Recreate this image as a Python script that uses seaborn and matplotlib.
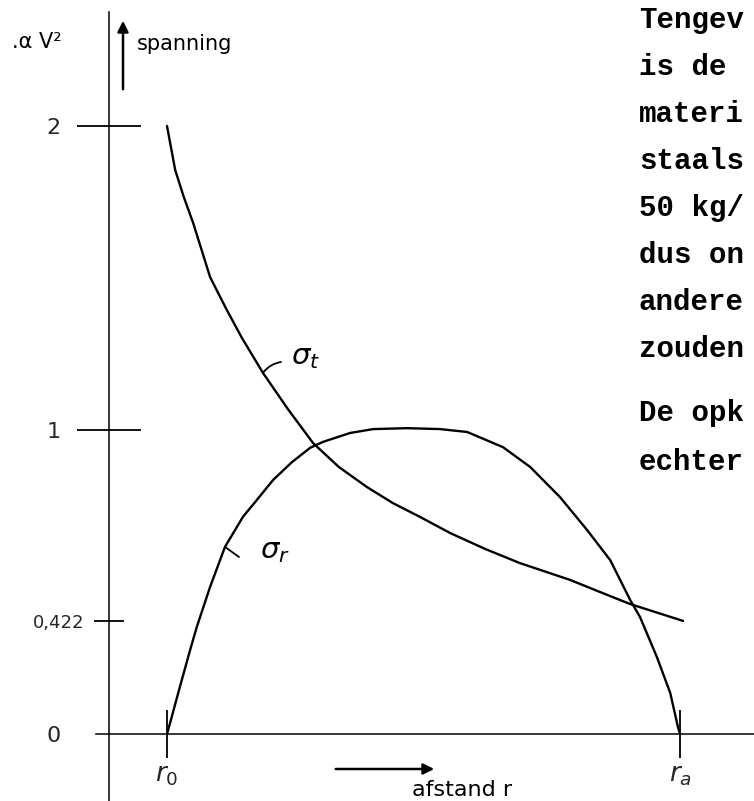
import numpy as np
import pandas as pd
import matplotlib
matplotlib.use("Agg")
import matplotlib.pyplot as plt
import seaborn as sns

# Radial position, expressed between inner radius r0 (0) and outer radius ra (1)
r_tangential = [0.0, 0.016, 0.033, 0.051, 0.084, 0.115, 0.146, 0.187, 0.236,
                0.285, 0.335, 0.390, 0.440, 0.493, 0.552, 0.620, 0.688,
                0.786, 0.840, 0.903, 1.006]
sigma_tangential = [2.0, 1.855, 1.765, 1.681, 1.503, 1.400, 1.303, 1.188,
                    1.068, 0.960, 0.888, 0.827, 0.779, 0.737, 0.688, 0.640,
                    0.597, 0.546, 0.512, 0.473, 0.422]

r_radial = [0.0, 0.006, 0.025, 0.045, 0.058, 0.084, 0.113, 0.148, 0.175,
            0.207, 0.243, 0.279, 0.304, 0.357, 0.402, 0.468, 0.532, 0.585,
            0.655, 0.708, 0.766, 0.819, 0.864, 0.903, 0.922, 0.955, 0.981,
            0.996, 1.0]
sigma_radial = [0.0, 0.041, 0.175, 0.313, 0.399, 0.525, 0.646, 0.737, 0.788,
                0.849, 0.902, 0.946, 0.964, 0.991, 1.003, 1.006, 1.003, 0.994,
                0.948, 0.888, 0.797, 0.697, 0.606, 0.485, 0.434, 0.287, 0.153,
                0.026, 0.0]

y_major = [0, 1, 2]
y_major_labels = ["0", "1", "2"]
y_minor = [0.422]
y_minor_labels = ["0,422"]
x_ticks = [0.0, 1.0]
x_tick_labels = [r"$r_0$", r"$r_a$"]

side_text = ["Tengev", "is de", "materi", "staals", "50 kg/",
             "dus on", "andere", "zouden", "De opk", "echter"]
side_text_y = [20, 67, 114, 161, 208, 255, 302, 349, 413, 462]

df = pd.concat([
    pd.DataFrame({"r": r_tangential, "sigma": sigma_tangential, "curve": "t"}),
    pd.DataFrame({"r": r_radial, "sigma": sigma_radial, "curve": "r"}),
], ignore_index=True)

sns.set_theme(style="white")
plt.rcParams["font.family"] = ["DejaVu Sans"]

W, H = 754, 801
fig = plt.figure(figsize=(W / 100, H / 100), dpi=100)
ax = fig.add_axes([0, 0, 1, 1])
ax.patch.set_alpha(0)

sns.lineplot(data=df, x="r", y="sigma", hue="curve", units="curve",
             estimator=None, sort=False, palette={"t": "black", "r": "black"},
             linewidth=1.7, legend=False, ax=ax)
for line in ax.get_lines():
    line.set_solid_joinstyle("round")
    line.set_solid_capstyle("round")

# hand-sketched vertical scale: the 0,422 mark sits a little lower than linear
A, B = 0.422, 0.372


def fwd(v):
    v = np.asarray(v, dtype=float)
    return np.where(v < A, v * B / A,
                    np.where(v < 1, B + (v - A) * (1 - B) / (1 - A), v))


def inv(u):
    u = np.asarray(u, dtype=float)
    return np.where(u < B, u * A / B,
                    np.where(u < 1, A + (u - B) * (1 - A) / (1 - B), u))


ax.set_yscale("function", functions=(fwd, inv))
ax.set_xlim(-167 / 513, (W - 167) / 513)
ax.set_ylim(float(inv((734 - H) / 304)), 734 / 304)

for s in ("top", "right"):
    ax.spines[s].set_visible(False)
for s in ("left", "bottom"):
    ax.spines[s].set_color("black")
    ax.spines[s].set_linewidth(1.1)
ax.spines["left"].set_position(("data", -0.113))
ax.spines["bottom"].set_position(("data", 0))
ax.spines["left"].set_bounds(float(inv((734 - H) / 304)), (734 - 12) / 304)
ax.spines["bottom"].set_bounds(-0.138, (W - 167) / 513)

ax.set_yticks(y_major)
ax.set_yticklabels(y_major_labels)
ax.set_yticks(y_minor, minor=True)
ax.set_yticklabels(y_minor_labels, minor=True)
ax.tick_params(axis="y", which="both", left=True, labelleft=True)
ax.tick_params(axis="y", which="major", direction="inout", length=46,
               width=1.3, color="black", pad=12, labelsize=16)
ax.tick_params(axis="y", which="minor", direction="inout", length=21,
               width=1.3, color="black", pad=7, labelsize=13)
# the zero level is marked by the horizontal axis itself
ax.yaxis.get_major_ticks()[0].tick1line.set_visible(False)
ax.set_xticks(x_ticks)
ax.set_xticklabels(x_tick_labels)
ax.tick_params(axis="x", which="major", bottom=True, labelbottom=True,
               direction="inout", length=34, width=1.3, color="black", pad=3,
               labelsize=19)
ax.tick_params(axis="x", which="minor", bottom=False)
ax.set_xlabel("")
ax.set_ylabel("")
ax.grid(False)


def fx(px):
    return px / W


def fy(py):
    return 1 - py / H


# curve labels with short leader strokes
ax.annotate("", xy=(r_tangential[7], sigma_tangential[7]),
            xytext=(fx(281), fy(362)), textcoords="figure fraction",
            arrowprops=dict(arrowstyle="-", lw=1.3, color="black",
                            shrinkA=0, shrinkB=0,
                            connectionstyle="arc3,rad=0.2"))
fig.text(fx(306), fy(357), r"$\sigma_t$", ha="center", va="center",
         fontsize=21, color="black")
ax.annotate("", xy=(r_radial[6], sigma_radial[6]),
            xytext=(fx(239), fy(557)), textcoords="figure fraction",
            arrowprops=dict(arrowstyle="-", lw=1.3, color="black",
                            shrinkA=0, shrinkB=0))
fig.text(fx(275), fy(551), r"$\sigma_r$", ha="center", va="center",
         fontsize=21, color="black")

# axis captions
fig.text(fx(12), fy(42), ".α V²", ha="left", va="center", fontsize=15,
         color="black")
fig.text(fx(137), fy(44), "spanning", ha="left", va="center", fontsize=15,
         color="black")
ax.annotate("", xy=(fx(123), fy(18)), xytext=(fx(123), fy(92)),
            xycoords="figure fraction", textcoords="figure fraction",
            arrowprops=dict(arrowstyle="-|>", lw=1.8, color="black",
                            mutation_scale=16))
ax.annotate("", xy=(fx(437), fy(769)), xytext=(fx(333), fy(769)),
            xycoords="figure fraction", textcoords="figure fraction",
            arrowprops=dict(arrowstyle="-|>", lw=1.8, color="black",
                            mutation_scale=16))
fig.text(fx(412), fy(790), "afstand r", ha="left", va="center",
         fontsize=16, color="black")

# typed text running beside the figure
for line, py in zip(side_text, side_text_y):
    fig.text(fx(639), fy(py), line, ha="left", va="center",
             fontsize=21, fontweight="bold", family="Liberation Mono",
             color="black")

fig.savefig("out.png", dpi=100)
